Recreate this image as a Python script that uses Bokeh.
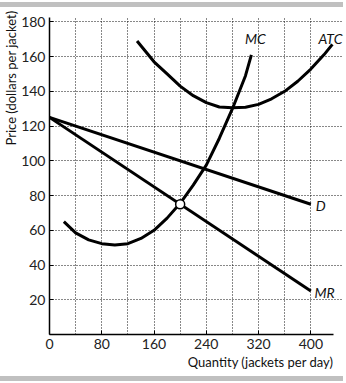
from bokeh.plotting import figure
from bokeh.layouts import column
from bokeh.models import FixedTicker, Label, Range1d, Title, Spacer, Div
from bokeh.embed import file_html
from bokeh.resources import INLINE

# ---- data ----
d_q = [0, 400]
d_p = [125, 75]
mr_q = [0, 400]
mr_p = [125, 25]
mc_q = [22, 40, 60, 80, 100, 120, 140, 160, 180, 200, 220, 240, 260, 280, 300, 309]
mc_p = [65, 58.5, 54.5, 52.3, 51.5, 52.3, 55.3, 60, 67, 75.5, 86, 97.5, 113, 130, 149, 161]
atc_q = [134, 160, 180, 200, 220, 240, 260, 280, 300, 320, 340, 360, 380, 400, 420, 433]
atc_p = [169, 157, 150, 143, 137.5, 133.5, 131, 130.5, 130.8, 132.5, 135.7, 140, 145.8, 152.8, 161, 167]
eq_q = [200]
eq_p = [75]
x_ticks = [0, 80, 160, 240, 320, 400]
x_grid = [40, 80, 120, 160, 200, 240, 280, 320, 360, 400]
y_ticks = [20, 40, 60, 80, 100, 120, 140, 160, 180]

FONT = "Lato"
BAR = "#c0c0c0"


def bar():
    return Div(text="", width=343, height=5, margin=(0, 0, 0, 0),
               styles={"background-color": BAR, "width": "343px", "height": "5px",
                       "padding": "0px", "margin": "0px"})


p = figure(width=346, height=369, output_backend="svg", toolbar_location=None,
           x_range=Range1d(0, 450), y_range=Range1d(0, 182.5),
           min_border_left=47, min_border_right=3, min_border_top=10, min_border_bottom=42)
p.outline_line_color = None

for ax in (p.xaxis[0], p.yaxis[0]):
    ax.axis_line_color = "black"
    ax.axis_line_width = 1.5
    ax.major_tick_in = 4
    ax.major_tick_out = 0
    ax.minor_tick_line_color = None
    ax.major_tick_line_color = "black"
    ax.major_label_text_font = FONT
    ax.major_label_text_font_size = "14px"
    ax.major_label_text_color = "#222222"
    ax.major_label_standoff = 4

p.xaxis[0].ticker = FixedTicker(ticks=x_ticks)
p.yaxis[0].ticker = FixedTicker(ticks=y_ticks)
p.xaxis[0].bounds = (0, 435)
p.xgrid[0].ticker = FixedTicker(ticks=x_grid)
p.ygrid[0].ticker = FixedTicker(ticks=y_ticks)
p.ygrid[0].bounds = (0, 435)
for g in (p.xgrid[0], p.ygrid[0]):
    g.grid_line_color = "#111111"
    g.grid_line_dash = "1 2"
    g.grid_line_width = 1

LW = 3
p.line(d_q, d_p, line_color="black", line_width=LW)
p.line(mr_q, mr_p, line_color="black", line_width=LW)
p.line(mc_q, mc_p, line_color="black", line_width=LW)
p.line(atc_q, atc_p, line_color="black", line_width=LW)
p.scatter(eq_q, eq_p, size=9, fill_color="white", line_color="black", line_width=1.5)


def lab(x, y, t):
    p.add_layout(Label(x=x, y=y, text=t, text_font=FONT, text_font_size="14px",
                       text_font_style="italic", text_align="center", text_baseline="middle",
                       text_color="#111111"))


lab(315, 170.6, "MC")
lab(430, 170.6, "ATC")
lab(415, 74, "D")
lab(421, 24, "MR")

p.add_layout(Title(text="Quantity (jackets per day)", align="right", offset=10, standoff=0,
                   text_font=FONT, text_font_size="13px", text_font_style="normal",
                   text_color="#111111"), "below")
p.add_layout(Title(text="Price (dollars per jacket)", align="right", offset=-7, standoff=0,
                   text_font=FONT, text_font_size="13px", text_font_style="normal",
                   text_color="#111111"), "left")

layout = column(Spacer(height=2, margin=(0, 0, 0, 0)), bar(), p, bar(), spacing=0)
open("out.html", "w").write(file_html(layout, INLINE))
